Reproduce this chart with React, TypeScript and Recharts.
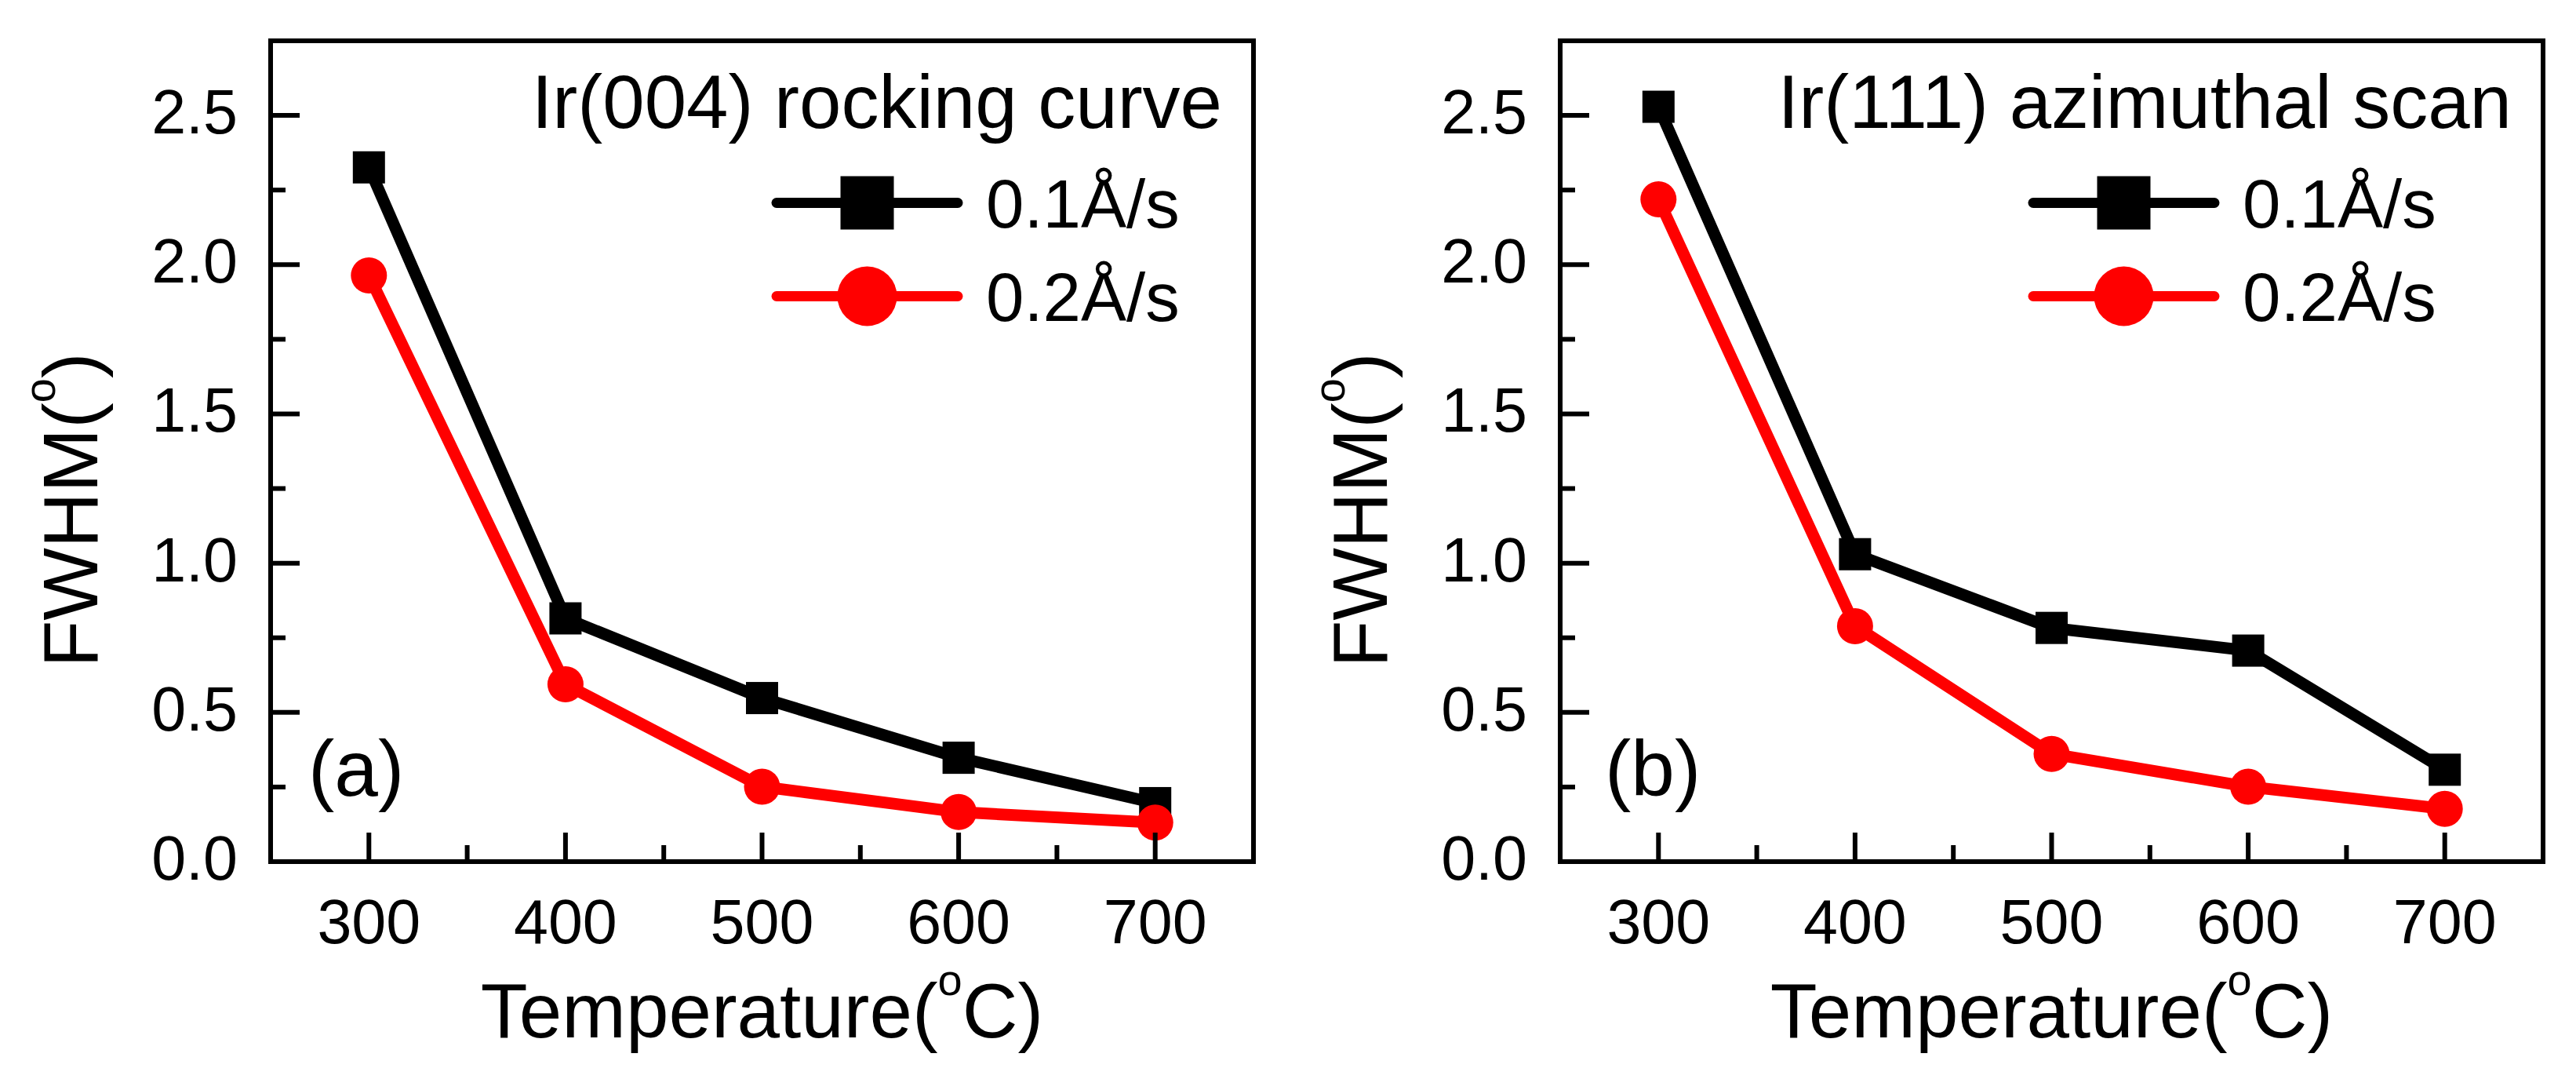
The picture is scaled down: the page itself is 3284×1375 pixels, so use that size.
import { LineChart, Line, XAxis, YAxis, ReferenceArea, Legend, Label, Customized } from "recharts";

// temperatures (°C) and FWHM values (°)
const temperatures = [300, 400, 500, 600, 700];
const rocking01 = [2.326, 0.815, 0.548, 0.348, 0.196];
const rocking02 = [1.964, 0.594, 0.251, 0.166, 0.131];
const azimuthal01 = [2.529, 1.03, 0.783, 0.707, 0.308];
const azimuthal02 = [2.219, 0.789, 0.361, 0.251, 0.177];

const tempTicks = [300, 350, 400, 450, 500, 550, 600, 650, 700];
const fwhmTicks = [0, 0.25, 0.5, 0.75, 1, 1.25, 1.5, 1.75, 2, 2.25, 2.5];
const seriesNames = ["0.1Å/s", "0.2Å/s"];
const panelTitles = ["Ir(004) rocking curve", "Ir(111) azimuthal scan"];
const panelTags = ["(a)", "(b)"];

const FONT = '"Liberation Sans", Arial, Helvetica, sans-serif';
const RED = "#ff0000";

function TempTick(props: any) {
  const { x, y, payload } = props;
  const major = payload.value % 100 === 0;
  return (
    <g>
      <line x1={x} x2={x} y1={y} y2={y - (major ? 37 : 21)} stroke="#000" strokeWidth={6} />
      {major && (
        <text x={x} y={y + 104} textAnchor="middle" fontSize={79} fill="#000" fontFamily={FONT}>
          {payload.value}
        </text>
      )}
    </g>
  );
}

function FwhmTick(props: any) {
  const { x, y, payload } = props;
  const v = payload.value as number;
  const major = Math.abs(v * 2 - Math.round(v * 2)) < 1e-6;
  return (
    <g>
      <line x1={x} x2={x + (major ? 37 : 19)} y1={y} y2={y} stroke="#000" strokeWidth={6} />
      {major && (
        <text x={x - 42} y={y + 23} textAnchor="end" fontSize={79} fill="#000" fontFamily={FONT}>
          {v.toFixed(1)}
        </text>
      )}
    </g>
  );
}

function SquareDot(props: any) {
  const { cx, cy, index } = props;
  return <rect key={`sq-${index}`} x={cx - 20.5} y={cy - 20.5} width={41} height={41} fill="#000" />;
}

function CircleDot(props: any) {
  const { cx, cy, index } = props;
  return <circle key={`ci-${index}`} cx={cx} cy={cy} r={23} fill={RED} />;
}

function LegendBox(props: any) {
  const entries = props.payload || [];
  return (
    <svg width={560} height={238} style={{ display: "block", overflow: "visible" }}>
      {entries.map((e: any, i: number) => {
        const cy = 59.5 + 119 * i;
        const isSlow = e.dataKey === "slow";
        const color = isSlow ? "#000" : RED;
        return (
          <g key={e.value}>
            <line x1={8} x2={239} y1={cy} y2={cy} stroke={color} strokeWidth={13} strokeLinecap="round" />
            {isSlow ? (
              <rect x={123.5 - 34} y={cy - 34} width={68} height={68} fill="#000" />
            ) : (
              <circle cx={123.5} cy={cy} r={38} fill={RED} />
            )}
            <text x={275} y={cy + 31} fontSize={87} fill="#000" fontFamily={FONT}>
              {e.value}
            </text>
          </g>
        );
      })}
    </svg>
  );
}

function TempLabel(props: any) {
  const vb = props.viewBox || { x: 0, y: 0, width: 0, height: 0 };
  return (
    <text x={vb.x + vb.width / 2} y={vb.y + 224} textAnchor="middle" fontSize={98} fill="#000" fontFamily={FONT}>
      Temperature(
      <tspan dy={-54} fontSize={56}>o</tspan>
      <tspan dy={54}>C)</tspan>
    </text>
  );
}

function FwhmLabel(props: any) {
  const vb = props.viewBox || { x: 0, y: 0, width: 0, height: 0 };
  const bx = vb.x + vb.width - 221;
  const cy = vb.y + vb.height / 2 + 75;
  return (
    <text
      x={bx}
      y={cy}
      transform={`rotate(-90 ${bx} ${cy})`}
      textAnchor="middle"
      fontSize={98}
      fill="#000"
      fontFamily={FONT}
    >
      FWHM(
      <tspan dy={-54} fontSize={56}>o</tspan>
      <tspan dy={54}>)</tspan>
    </text>
  );
}

type PanelProps = {
  slow: number[];
  fast: number[];
  title: string;
  tag: string;
  left: number;
  right: number;
  tagX: number;
  legendX: number;
};

function Panel({ slow, fast, title, tag, left, right, tagX, legendX }: PanelProps) {
  const data = temperatures.map((t, i) => ({ t, slow: slow[i], fast: fast[i] }));
  const W = 1642;
  const H = 1375;
  return (
    <LineChart width={W} height={H} data={data} margin={{ top: 52, right, bottom: 0, left: 0 }}>
      <XAxis
        dataKey="t"
        type="number"
        domain={[250, 750]}
        ticks={tempTicks}
        interval={0}
        height={277}
        tickSize={0}
        tickMargin={0}
        tickLine={false}
        axisLine={false}
        tick={<TempTick />}
      >
        <Label content={<TempLabel />} />
      </XAxis>
      <YAxis
        type="number"
        domain={[0, 2.75]}
        ticks={fwhmTicks}
        interval={0}
        width={left}
        tickSize={0}
        tickMargin={0}
        tickLine={false}
        axisLine={false}
        tick={<FwhmTick />}
      >
        <Label content={<FwhmLabel />} />
      </YAxis>
      <ReferenceArea
        x1={250}
        x2={750}
        y1={0}
        y2={2.75}
        fill="none"
        stroke="#000"
        strokeWidth={6}
        ifOverflow="visible"
      />
      <Line
        dataKey="slow"
        name={seriesNames[0]}
        stroke="#000"
        strokeWidth={15}
        strokeLinejoin="round"
        dot={SquareDot}
        activeDot={false}
        isAnimationActive={false}
      />
      <Line
        dataKey="fast"
        name={seriesNames[1]}
        stroke={RED}
        strokeWidth={15}
        strokeLinejoin="round"
        dot={CircleDot}
        activeDot={false}
        isAnimationActive={false}
      />
      <Legend
        layout="vertical"
        align="center"
        verticalAlign="middle"
        content={<LegendBox />}
        wrapperStyle={{ left: legendX, top: 198.5, width: 560, height: 238 }}
      />
      <Customized
        component={() => (
          <g>
            <text x={W - right - 40} y={163} textAnchor="end" fontSize={96} fill="#000" fontFamily={FONT}>
              {title}
            </text>
            <text x={tagX} y={1014} fontSize={100} fill="#000" fontFamily={FONT}>
              {tag}
            </text>
          </g>
        )}
      />
    </LineChart>
  );
}

export default function App() {
  return (
    <div
      style={{
        position: "absolute",
        left: 0,
        top: 0,
        width: 3284,
        height: 1375,
        background: "#fff",
        display: "flex",
        fontFamily: FONT,
      }}
    >
      <Panel
        slow={rocking01}
        fast={rocking02}
        title={panelTitles[0]}
        tag={panelTags[0]}
        left={345}
        right={44}
        tagX={393}
        legendX={982}
      />
      <Panel
        slow={azimuthal01}
        fast={azimuthal02}
        title={panelTitles[1]}
        tag={panelTags[1]}
        left={347}
        right={42}
        tagX={404}
        legendX={942}
      />
    </div>
  );
}
